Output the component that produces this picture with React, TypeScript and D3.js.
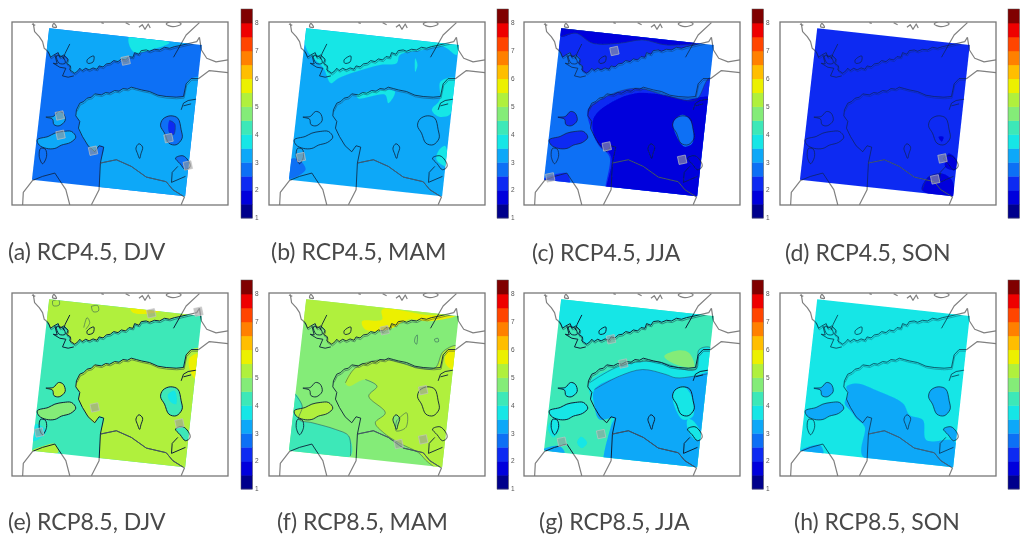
import React from 'react';
import * as d3 from 'd3';

type P = [number, number];
type Region = [P[], number];

// ---- colour bar -------------------------------------------------------
const barMin = 1;
const barMax = 8.5;
const barColors = ['#00008c','#0004dc','#0a2cf2','#0a70f5','#10a8f8','#12e6e6','#3ce8b8','#84ec78','#b0f03e','#ecf000','#ffbe00','#ff8000','#ff4400','#ee0000','#800000'];
const barTicks = [1,2,3,4,5,6,7,8];

// ---- map outline, in map units -----------------------------------------
const quad: P[] = [[148,85],[607,135],[557,590],[96,540]];
const northCoast: P[] = [[100,70],[104,95],[118,110],[128,125],[133,145],[145,155],[152,172],[162,165],[175,158],[180,172],[192,165],[205,178],[200,190],[212,198],[210,210],[225,220],[235,212],[240,205],[247,212],[258,205],[268,210],[280,204],[292,208],[298,198],[310,201],[320,192],[332,190],[342,182],[355,185],[365,177],[378,180],[388,170],[400,172],[405,158],[418,163],[425,152],[440,150],[450,154],[465,148],[480,150],[495,142],[510,145],[525,140],[545,136],[570,130],[592,125],[600,112]];
const northCoastEast: P[] = [[600,112],[606,150],[622,175],[650,186],[686,180]];
const turkuArch: P[] = [[165,165],[172,192],[160,190],[180,202],[198,205],[188,228],[205,232],[222,228]];
const turkuSpike: P[] = [[210,132],[196,160],[190,178]];
const turkuLoop: P[] = [[170,168],[190,172],[196,190],[178,190]];
const estNorth: P[] = [[230,330],[240,310],[252,305],[262,295],[275,292],[285,282],[305,285],[318,278],[330,280],[345,272],[358,274],[370,266],[384,268],[395,262],[410,266],[425,270],[450,275],[475,286],[500,290],[530,292],[552,290],[560,252],[575,236],[598,236],[630,212],[686,218]];
const estWest: P[] = [[230,330],[228,348],[240,365],[236,385],[248,410],[265,438],[285,456],[298,438],[312,442],[302,490],[298,570],[275,615]];
const border: P[] = [[302,490],[350,480],[395,500],[440,532],[500,546],[520,570],[555,592],[545,615]];
const borderTwo: P[] = [[535,500],[518,518],[516,548],[558,530]];
const russia: P[] = [[600,68],[560,105],[522,172]];
const latvia: P[] = [[68,616],[70,578],[98,542],[128,530],[165,520],[198,570],[210,616]];
const narvaRiver: P[] = [[545,330],[552,310],[566,302],[590,298]];
const narvaRiverTwo: P[] = [[552,318],[575,312]];
const saaremaa: P[] = [[112,420],[145,410],[165,400],[190,395],[215,395],[228,412],[212,428],[185,436],[165,446],[140,446],[118,436]];
const saaremaaTail: P[] = [[122,446],[118,470],[128,492],[140,470],[136,448]];
const hiiumaa: P[] = [[138,352],[160,350],[176,335],[190,340],[196,362],[178,378],[162,374],[158,358]];
const peipus: P[] = [[483,378],[490,358],[512,348],[535,355],[545,390],[548,415],[530,435],[508,430],[495,400]];
const lowerLake: P[] = [[528,475],[550,468],[566,482],[572,500],[558,510],[542,492]];
const vortsjarv: P[] = [[409,445],[418,432],[429,442],[424,462],[420,476],[414,462]];
const topIslandsA: P[] = [[96,72],[106,76]];
const topIslandsB: P[] = [[162,70],[170,82],[158,80]];
const topIslandsC: P[] = [[305,68],[312,70]];
const topIslandsD: P[] = [[378,68],[390,74]];
const topIslandsE: P[] = [[418,82],[428,74],[436,88],[446,72],[452,84]];
const topIslandsF: P[] = [[500,72],[525,62],[545,72],[520,80]];
const finnIsland: P[] = [[262,180],[282,168],[280,186],[264,190]];

// ---- shared land areas -------------------------------------------------
const finland: P[] = [...northCoast, [630,112],[630,50],[90,50]];
const estonia: P[] = [...estNorth.slice(0,23),[630,236],[630,620],[275,620],...estWest.slice().reverse().slice(1)];

// ---- regional values per panel -----------------------------------------
const stripA: P[] = [[388,112],[510,128],[470,145],[402,156]];
const coreA: P[] = [[510,362],[526,372],[522,405],[508,396]];
const regionsA: Region[] = [[finland,3.25],[estonia,3.25],[stripA,3.75],[hiiumaa,3.25],[saaremaa,3.25],[peipus,2.75],[coreA,2.25],[lowerLake,2.75]];

const finlandB: P[] = [[146,85],[607,135],[600,165],[560,140],[500,150],[430,165],[420,190],[370,195],[300,215],[245,235],[222,250],[200,205],[150,150]];
const patchB1: P[] = [[300,285],[415,275],[395,310],[385,285],[305,296]];
const patchB2: P[] = [[552,245],[596,235],[590,300],[580,345],[545,350],[526,330],[550,300]];
const patchB3: P[] = [[548,450],[566,438],[572,500],[540,480]];
const patchB4: P[] = [[476,175],[483,195],[476,216]];
const cornerB: P[] = [[101,478],[126,480],[146,510],[96,536]];
const regionsB: Region[] = [[finlandB,3.75],[patchB1,3.75],[patchB2,3.75],[patchB3,3.75],[patchB4,3.75],[cornerB,2.75]];

const bandC: P[] = [[228,330],[273,295],[373,265],[473,290],[553,300],[593,235],[630,240],[630,620],[288,620],[293,470],[263,440],[243,400]];
const coreC: P[] = [[248,350],[303,305],[373,280],[453,285],[523,300],[583,290],[630,300],[630,620],[288,620],[298,470],[258,430],[243,390]];
const topC: P[] = [[143,85],[553,130],[463,135],[393,120],[323,130],[243,130],[193,100],[148,110]];
const lakeC: P[] = [[485,370],[513,345],[538,365],[543,430],[518,440]];
const cornerC: P[] = [[93,540],[163,520],[173,550]];
const regionsC: Region[] = [[finland,2.25],[topC,1.75],[bandC,2.25],[coreC,1.75],[lakeC,2.75],[saaremaa,2.25],[hiiumaa,2.25],[cornerC,2.25]];

const cornerD: P[] = [[463,571],[483,531],[523,521],[553,541],[558,591]];
const lakeD: P[] = [[543,461],[568,481],[563,511],[533,501]];
const spotD: P[] = [[513,411],[528,411],[523,426]];
const regionsD: Region[] = [[cornerD,1.75],[lakeD,1.75],[spotD,1.75]];

const yellowE: P[] = [[392,88],[520,105],[480,122],[398,124]];
const eastE: P[] = [[570,262],[600,248],[590,326],[572,300]];
const cornerE: P[] = [[96,510],[106,460],[140,480],[118,505]];
const latviaE: P[] = [[96,540],[130,526],[165,520],[175,545]];
const coreE: P[] = [[505,372],[525,360],[530,400],[512,392]];
const regionsE: Region[] = [[finland,5.25],[yellowE,5.75],[estonia,5.25],[eastE,5.75],[hiiumaa,5.25],[saaremaa,4.75],[latviaE,5.25],[cornerE,3.75],[peipus,4.25],[coreE,3.75],[lowerLake,4.25]];

const yellowF: P[] = [[376,116],[506,131],[596,136],[516,151],[456,146],[396,176],[326,176],[316,151],[376,146]];
const landF: P[] = [[266,336],[296,291],[386,266],[486,291],[536,291],[561,241],[610,226],[600,620],[516,576],[486,546],[426,516],[381,486],[356,456],[386,426],[336,376],[361,346],[326,326],[276,346]];
const eastF: P[] = [[576,236],[605,241],[590,296],[566,276]];
const lowF: P[] = [[111,366],[136,406],[126,446],[166,456],[236,476],[276,496],[281,556],[91,531]];
const regionsF: Region[] = [[finland,5.25],[yellowF,5.75],[landF,5.25],[eastF,5.75],[lowF,4.25],[saaremaa,5.25],[hiiumaa,4.75],[vortsjarv,4.75]];

const patchG: P[] = [[458,256],[503,238],[533,246],[548,288],[493,281]];
const bandG: P[] = [[233,336],[323,286],[423,271],[553,296],[563,236],[598,231],[600,306],[630,306],[630,620],[283,620],[298,441],[283,420],[248,400]];
const coreG: P[] = [[248,356],[323,316],[393,296],[463,311],[493,321],[548,316],[630,301],[630,620],[285,620],[298,466],[308,441],[263,446],[248,406]];
const lakeG: P[] = [[483,371],[513,346],[538,371],[545,436],[513,446]];
const lowerG: P[] = [[528,446],[545,450],[572,500],[556,510],[530,480]];
const cornerG: P[] = [[93,536],[143,526],[158,546]];
const pondG: P[] = [[196,516],[208,498],[226,516],[210,532]];
const pondG2: P[] = [[108,470],[130,440],[145,468],[125,500]];
const regionsG: Region[] = [[finland,3.75],[patchG,4.75],[bandG,3.75],[coreG,3.25],[lakeG,3.75],[lowerG,3.75],[saaremaa,3.75],[hiiumaa,3.75],[cornerG,3.25],[pondG,3.75],[pondG2,3.75]];

const landH: P[] = [[236,348],[266,338],[336,363],[406,398],[426,433],[466,448],[476,508],[551,508],[566,518],[556,593],[286,558],[291,468],[266,443],[251,423],[231,398],[241,368]];
const cornerH: P[] = [[98,540],[156,523],[166,550]];
const regionsH: Region[] = [[landH,3.25],[saaremaa,3.25],[peipus,3.25],[lowerLake,3.25],[cornerH,3.25],[hiiumaa,3.25]];

// ---- extra contours ----------------------------------------------------
const contourE: P[][] = [[[158,90],[176,86],[178,102],[160,104],[158,90]],[[275,106],[294,104],[296,120],[280,122],[275,106]],[[252,170],[262,140],[270,155],[258,175]]];
const contourF: P[][] = [landF.slice(0,17),[[476,200],[482,192],[480,220],[474,212],[476,200]],[[534,205],[544,202],[546,212],[536,212],[534,205]],[[420,450],[450,426],[448,470],[418,480],[420,450]],lowF.slice(0,7)];
const contourG: P[][] = [bandG.slice(0,8),coreG.slice(0,7)];
const contourC: P[][] = [bandC.slice(0,7),topC.slice(0,8)];
const contourA: P[][] = [coreA];
const contourD: P[][] = [[[463,571],[483,531],[523,521]]];
const contoursNone: P[][] = [];

// ---- significance squares ----------------------------------------------
const marksA: P[] = [[378,182],[180,347],[182,405],[280,453],[507,415],[565,497]];
const marksB: P[] = [[132,472]];
const marksC: P[] = [[308,153],[285,440],[512,480],[115,533]];
const marksD: P[] = [[525,476],[503,539]];
const marksE: P[] = [[455,127],[597,122],[285,410],[540,458],[118,485]];
const marksF: P[] = [[384,178],[500,358],[500,506],[426,520]];
const marksG: P[] = [[298,205],[335,278],[268,490],[150,513]];
const marksH: P[] = [];

const labels = ['(a) RCP4.5, DJV','(b) RCP4.5, MAM','(c) RCP4.5, JJA','(d) RCP4.5, SON','(e) RCP8.5, DJV','(f) RCP8.5, MAM','(g) RCP8.5, JJA','(h) RCP8.5, SON'];
const baseValues = [2.75,3.25,2.75,2.25,4.25,4.75,4.25,3.75];
const regionSets = [regionsA,regionsB,regionsC,regionsD,regionsE,regionsF,regionsG,regionsH];
const contourSets = [contourA,contoursNone,contourC,contourD,contourE,contourF,contourG,contoursNone];
const markSets = [marksA,marksB,marksC,marksD,marksE,marksF,marksG,marksH];
const coastWeights = [0.8,0.8,0.7,0.6,1.0,0.9,1.0,0.7];

// ---- layout ------------------------------------------------------------
const frameW = 216, frameH = 183;
const frameX = [12,269,524,780,12,269,524,780];
const frameY = [22,22,22,22,293,293,293,293];
const barX = [241,497,752,1008,241,497,752,1008];
const barY = [9,9,9,9,280,280,280,280];
const labelX = [8,271,532,785,8,277,539,794];
const labelY = [260,260,261,261,530,530,530,530];

const colorOf = d3.scaleQuantize<string>().domain([barMin,barMax]).range(barColors);
const bandValues = barColors.map((_, i) => barMin + (i + 0.5) * (barMax - barMin) / barColors.length);

function Panel({ i }: { i: number }) {
  const x = d3.scaleLinear([36,686],[frameX[i],frameX[i]+frameW]);
  const y = d3.scaleLinear([66,616],[frameY[i],frameY[i]+frameH]);
  const open = d3.line<P>().x(d=>x(d[0])).y(d=>y(d[1]));
  const closed = d3.line<P>().x(d=>x(d[0])).y(d=>y(d[1])).curve(d3.curveLinearClosed);
  const smooth = d3.line<P>().x(d=>x(d[0])).y(d=>y(d[1])).curve(d3.curveCatmullRom);
  const smoothClosed = d3.line<P>().x(d=>x(d[0])).y(d=>y(d[1])).curve(d3.curveCatmullRomClosed);
  const frameClip = `frame${i}`, quadClip = `quad${i}`;
  const bar = d3.scaleLinear([barMin,barMax],[barY[i]+209,barY[i]]);
  const openLines = [northCoast,northCoastEast,estNorth,estWest,border,borderTwo,russia,latvia,narvaRiver,narvaRiverTwo,turkuArch,turkuSpike,topIslandsA,topIslandsC,topIslandsD,topIslandsE];
  const closedLines = [saaremaa,saaremaaTail,hiiumaa,peipus,lowerLake,vortsjarv,topIslandsB,topIslandsF,finnIsland,turkuLoop];
  const w = coastWeights[i];
  const outlines = (stroke: string, sw: number) => (
    <g fill="none" stroke={stroke} strokeWidth={sw} strokeLinejoin="round">
      {openLines.map((l,k)=><path key={k} d={open(l)!}/>)}
      {closedLines.map((l,k)=><path key={'c'+k} d={smoothClosed(l)!}/>)}
    </g>
  );
  return (
    <g>
      <clipPath id={frameClip}><rect x={x(36)} y={y(66)} width={frameW} height={frameH}/></clipPath>
      <clipPath id={quadClip}><path d={closed(quad)!}/></clipPath>
      <g filter="url(#soft)">
        <g clipPath={`url(#${frameClip})`}>
          {outlines('#808080',1.2)}
          <path d={closed(quad)!} fill={colorOf(baseValues[i])}/>
          <g clipPath={`url(#${quadClip})`}>
            {regionSets[i].map(([pts,v],k)=><path key={k} d={smoothClosed(pts)!} fill={colorOf(v)}/>)}
            {contourSets[i].map((c,k)=><path key={k} d={smooth(c)!} fill="none" stroke="#22405a" strokeOpacity={0.7} strokeWidth={0.7}/>)}
            <g transform="translate(0.6,1.6)" opacity={0.5}>
              <path d={open(northCoast)!} fill="none" stroke="#1c3048" strokeWidth={w}/>
              <path d={open(estNorth)!} fill="none" stroke="#1c3048" strokeWidth={w}/>
            </g>
            {outlines('#0f2138',w)}
            <path d={open(border)!} fill="none" stroke="#5a6a7a" strokeWidth={0.7}/>
          </g>
          {markSets[i].map((m,k)=>(
            <rect key={k} x={x(m[0])-4} y={y(m[1])-4} width={8} height={8} fill="#9c9c9c" fillOpacity={0.6} stroke="#c4c4c4" strokeWidth={0.6} transform={`rotate(-12 ${x(m[0])} ${y(m[1])})`}/>
          ))}
        </g>
        <rect x={frameX[i]} y={frameY[i]} width={frameW} height={frameH} fill="none" stroke="#777" strokeWidth={1.3}/>
        <g>
          {bandValues.map((v,k)=>(
            <rect key={k} x={barX[i]} y={bar(v+0.25)} width={11.5} height={bar(v-0.25)-bar(v+0.25)+0.4} fill={colorOf(v)}/>
          ))}
          <rect x={barX[i]} y={barY[i]} width={11.5} height={209} fill="none" stroke="#555" strokeWidth={0.5}/>
        </g>
        {barX[i] < 1000 && barTicks.map(t=>(
          <text key={t} x={barX[i]+14} y={bar(t)+2.3} fontSize={6.5} fontFamily="Liberation Sans" fill="#555">{t}</text>
        ))}
      </g>
      <text x={labelX[i]} y={labelY[i]} fontFamily="Lato" fontSize={23} fill="#484848" filter="url(#softText)">{labels[i]}</text>
    </g>
  );
}

export default function App() {
  return (
    <svg width={1021} height={540} viewBox="0 0 1021 540" style={{position:'absolute',left:0,top:0,background:'#fff'}}>
      <defs>
        <filter id="soft" x="-5%" y="-5%" width="110%" height="110%"><feGaussianBlur stdDeviation="0.6"/></filter>
        <filter id="softText" x="-5%" y="-20%" width="110%" height="140%"><feGaussianBlur stdDeviation="0.35"/></filter>
      </defs>
      {labels.map((_,i)=><Panel key={i} i={i}/>)}
    </svg>
  );
}
